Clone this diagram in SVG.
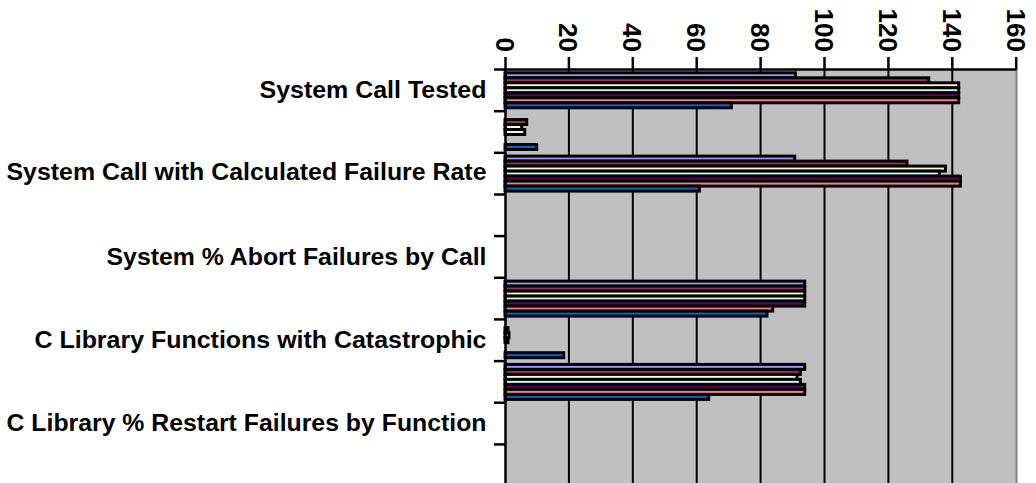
<svg xmlns="http://www.w3.org/2000/svg" width="1036" height="483" viewBox="0 0 1036 483">
<style>
.lbl{font-family:"Liberation Sans",Arial,sans-serif;font-weight:bold;font-size:23px;fill:#000}
.num{font-family:"Liberation Sans",Arial,sans-serif;font-weight:bold;font-size:26px;fill:#000}
.grid{stroke:#000;stroke-width:2}
.ax{stroke:#000;stroke-width:2.5}
.bar{stroke:#000;stroke-width:3}
.c1{fill:#9999FF}.c2{fill:#993366}.c3{fill:#FFFFCC}.c4{fill:#CCFFFF}.c5{fill:#660066}.c6{fill:#FF8080}.c7{fill:#0066CC}
</style>
<rect width="1036" height="483" fill="#fff"/>
<g id="plot-area">
<rect x="505" y="69.5" width="511.5" height="420" fill="#C0C0C0"/>
<line x1="1016.5" y1="69.5" x2="1016.5" y2="483" stroke="#808080" stroke-width="2"/>
</g>
<g id="gridlines" class="grid">
<line x1="568.9" y1="69.5" x2="568.9" y2="483"/>
<line x1="632.8" y1="69.5" x2="632.8" y2="483"/>
<line x1="696.7" y1="69.5" x2="696.7" y2="483"/>
<line x1="760.6" y1="69.5" x2="760.6" y2="483"/>
<line x1="824.5" y1="69.5" x2="824.5" y2="483"/>
<line x1="888.4" y1="69.5" x2="888.4" y2="483"/>
<line x1="952.3" y1="69.5" x2="952.3" y2="483"/>
</g>
<g id="bars-1" class="bar">
<rect class="c1" x="505" y="72.8" width="290.4" height="5"/>
<rect class="c2" x="505" y="77.8" width="423.7" height="5"/>
<rect class="c3" x="505" y="82.8" width="453.7" height="5"/>
<rect class="c4" x="505" y="87.8" width="453.7" height="5"/>
<rect class="c5" x="505" y="92.8" width="453.7" height="5"/>
<rect class="c6" x="505" y="97.8" width="453.7" height="5"/>
<rect class="c7" x="505" y="102.8" width="226.4" height="5"/>
</g>
<g id="bars-2" class="bar">
<rect class="c2" x="505" y="119.5" width="21.7" height="5"/>
<rect class="c3" x="505" y="124.5" width="16.7" height="5"/>
<rect class="c4" x="505" y="129.5" width="19.7" height="5"/>
<rect class="c7" x="505" y="144.5" width="31.7" height="5"/>
</g>
<g id="bars-3" class="bar">
<rect class="c1" x="505" y="156.1" width="289.7" height="5"/>
<rect class="c2" x="505" y="161.1" width="402" height="5"/>
<rect class="c3" x="505" y="166.1" width="440.4" height="5"/>
<rect class="c4" x="505" y="171.1" width="434.4" height="5"/>
<rect class="c5" x="505" y="176.1" width="455.4" height="5"/>
<rect class="c6" x="505" y="181.1" width="455.4" height="5"/>
<rect class="c7" x="505" y="186.1" width="194.4" height="5"/>
</g>
<g id="bars-6" class="bar">
<rect class="c1" x="505" y="281.1" width="299.7" height="5"/>
<rect class="c2" x="505" y="286.1" width="299.7" height="5"/>
<rect class="c3" x="505" y="291.1" width="299.7" height="5"/>
<rect class="c4" x="505" y="296.1" width="299.7" height="5"/>
<rect class="c5" x="505" y="301.1" width="299.7" height="5"/>
<rect class="c6" x="505" y="306.1" width="267.7" height="5"/>
<rect class="c7" x="505" y="311.1" width="262" height="5"/>
</g>
<g id="bars-7" class="bar">
<rect class="c2" x="505" y="327.7" width="3" height="5"/>
<rect class="c3" x="505" y="332.7" width="4" height="5"/>
<rect class="c4" x="505" y="337.7" width="3" height="5"/>
<rect class="c7" x="505" y="352.7" width="58.7" height="5"/>
</g>
<g id="bars-8" class="bar">
<rect class="c1" x="505" y="364.4" width="299.7" height="5"/>
<rect class="c2" x="505" y="369.4" width="295.4" height="5"/>
<rect class="c3" x="505" y="374.4" width="292" height="5"/>
<rect class="c4" x="505" y="379.4" width="295.4" height="5"/>
<rect class="c5" x="505" y="384.4" width="299.7" height="5"/>
<rect class="c6" x="505" y="389.4" width="299.7" height="5"/>
<rect class="c7" x="505" y="394.4" width="203.7" height="5"/>
</g>
<g id="axes" class="ax">
<line x1="494" y1="69.5" x2="1016.5" y2="69.5"/>
<line x1="505.5" y1="68.5" x2="505.5" y2="483"/>
<line x1="505.5" y1="57" x2="505.5" y2="69.5"/>
<line x1="568.9" y1="57" x2="568.9" y2="69.5"/>
<line x1="632.8" y1="57" x2="632.8" y2="69.5"/>
<line x1="696.7" y1="57" x2="696.7" y2="69.5"/>
<line x1="760.6" y1="57" x2="760.6" y2="69.5"/>
<line x1="824.5" y1="57" x2="824.5" y2="69.5"/>
<line x1="888.4" y1="57" x2="888.4" y2="69.5"/>
<line x1="952.3" y1="57" x2="952.3" y2="69.5"/>
<line x1="1016.2" y1="57" x2="1016.2" y2="69.5"/>
<line x1="494" y1="111.2" x2="505" y2="111.2"/>
<line x1="494" y1="152.8" x2="505" y2="152.8"/>
<line x1="494" y1="194.5" x2="505" y2="194.5"/>
<line x1="494" y1="236.1" x2="505" y2="236.1"/>
<line x1="494" y1="277.8" x2="505" y2="277.8"/>
<line x1="494" y1="319.4" x2="505" y2="319.4"/>
<line x1="494" y1="361.1" x2="505" y2="361.1"/>
<line x1="494" y1="402.7" x2="505" y2="402.7"/>
<line x1="494" y1="444.4" x2="505" y2="444.4"/>
</g>
<g id="value-labels" class="num" text-anchor="end">
<text transform="translate(496,52) rotate(90)">0</text>
<text transform="translate(559.4,52) rotate(90)">20</text>
<text transform="translate(623.3,52) rotate(90)">40</text>
<text transform="translate(687.2,52) rotate(90)">60</text>
<text transform="translate(751.1,52) rotate(90)">80</text>
<text transform="translate(815,52) rotate(90)">100</text>
<text transform="translate(878.9,52) rotate(90)">120</text>
<text transform="translate(942.8,52) rotate(90)">140</text>
<text transform="translate(1006.7,52) rotate(90)">160</text>
</g>
<g id="category-labels" class="lbl" text-anchor="end">
<text x="486.5" y="98" textLength="227" lengthAdjust="spacingAndGlyphs">System Call Tested</text>
<text x="486.5" y="180" textLength="480" lengthAdjust="spacingAndGlyphs">System Call with Calculated Failure Rate</text>
<text x="486.5" y="265" textLength="380" lengthAdjust="spacingAndGlyphs">System % Abort Failures by Call</text>
<text x="486.5" y="348" textLength="452" lengthAdjust="spacingAndGlyphs">C Library Functions with Catastrophic</text>
<text x="486.5" y="431" textLength="480" lengthAdjust="spacingAndGlyphs">C Library % Restart Failures by Function</text>
</g>
</svg>
